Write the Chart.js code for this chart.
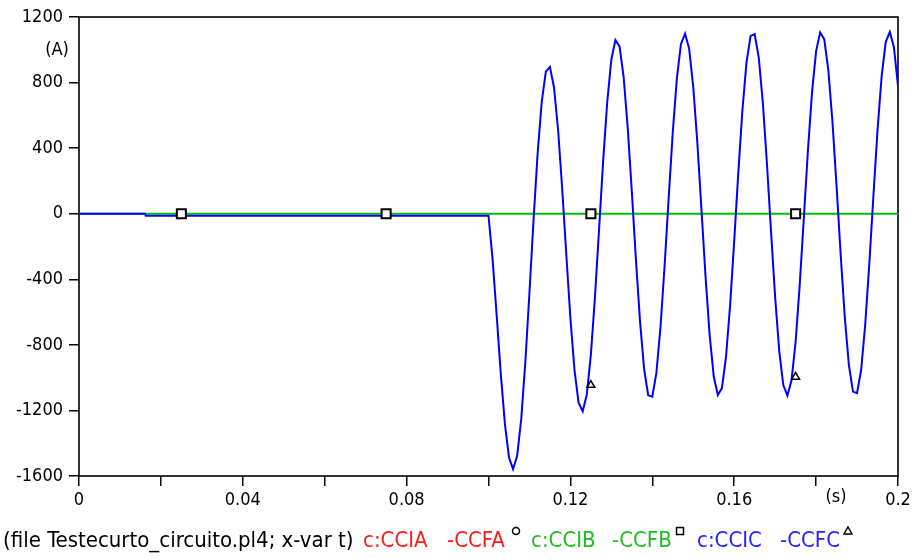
<!DOCTYPE html>
<html>
<head>
<meta charset="utf-8">
<script src="https://cdn.jsdelivr.net/npm/chart.js@4.4.1/dist/chart.umd.min.js"></script>
<style>
  html, body { margin: 0; padding: 0; background: #fff; }
  #wrap { width: 914px; height: 559px; }
</style>
</head>
<body>
<div id="wrap"><canvas id="plot" width="914" height="559"></canvas></div>
<script>
// CCIC before the fault: (time s, current A)
const preFaultTime = [0, 0.0161, 0.0163];
const preFaultCCIC = [0, 0, -12];

// CCIC from the fault instant on, one sample per ms
const faultStart = 0.1;
const sampleStep = 0.001;
const faultCCIC = [
  -12, -278, -622, -977, -1281, -1487, -1558, -1477, -1250, -903,
  -481, -38, 368, 683, 867, 896, 770, 509, 151, -250,
  -637, -954, -1153, -1205, -1104, -860, -507, -95, 322, 683,
  941, 1059, 1021, 834, 524, 135, -279, -657, -947, -1108,
  -1116, -971, -692, -319, 97, 497, 826, 1036, 1099, 1007,
  772, 434, 28, -383, -739, -992, -1106, -1064, -873, -559,
  -167, 249, 630, 922, 1085, 1095, 952, 675, 303, -111,
  -510, -838, -1047, -1109, -1016, -780, -434, -28, 383, 739,
  992, 1106, 1064, 873, 559, 167, -249, -630, -922, -1085,
  -1095, -952, -675, -303, 111, 510, 838, 1047, 1109, 1016,
  780
];

// CCIB stays at zero for the whole run (CCIA lies under it)
const flatTime = [0, 0.2];
const ccibValues = [0, 0];

// plot markers
const squareTime = [0.025, 0.075, 0.125, 0.175];
const squareValue = [0, 0, 0, 0];
const triangleTime = [0.125, 0.175];
const triangleValue = [-1045, -996];

// axes
const yTicks = [-1600, -1200, -800, -400, 0, 400, 800, 1200];
const xTickValues = [0, 0.02, 0.04, 0.06, 0.08, 0.1, 0.12, 0.14, 0.16, 0.18, 0.2];
const xTickLabels = ['0', '', '0.04', '', '0.08', '', '0.12', '', '0.16', '', '0.2'];
const yUnit = '(A)';
const xUnit = '(s)';

const legendItems = [
  { text: '(file Testecurto_circuito.pl4; x-var t)', color: '#000000', x: 3 },
  { text: 'c:CCIA', color: '#ff1a1a', x: 363 },
  { text: '-CCFA', color: '#ff1a1a', x: 447, mark: 'circle', markX: 516 },
  { text: 'c:CCIB', color: '#22bb22', x: 531 },
  { text: '-CCFB', color: '#22bb22', x: 612, mark: 'rect', markX: 680 },
  { text: 'c:CCIC', color: '#2424ff', x: 697 },
  { text: '-CCFC', color: '#2424ff', x: 780, mark: 'triangle', markX: 848 }
];

const FONT = "'DejaVu Sans Condensed', 'DejaVu Sans', sans-serif";

const pts = (xs, ys) => xs.map((x, i) => ({ x: x, y: ys[i] }));
const blueData = pts(preFaultTime, preFaultCCIC).concat(
  faultCCIC.map((v, i) => ({ x: +(faultStart + i * sampleStep).toFixed(4), y: v }))
);

function drawMark(ctx, kind, x, y) {
  ctx.save();
  ctx.strokeStyle = '#000';
  ctx.fillStyle = '#fff';
  ctx.lineWidth = 1.5;
  ctx.beginPath();
  if (kind === 'circle') {
    ctx.arc(x, y, 3.5, 0, Math.PI * 2);
  } else if (kind === 'rect') {
    ctx.rect(x - 3.5, y - 3.5, 7, 7);
  } else {
    ctx.moveTo(x, y - 4);
    ctx.lineTo(x + 4, y + 3);
    ctx.lineTo(x - 4, y + 3);
    ctx.closePath();
  }
  ctx.fill();
  ctx.stroke();
  ctx.restore();
}

const frameAndNotes = {
  id: 'frameAndNotes',
  beforeDatasetsDraw(chart) {
    const { ctx, chartArea: a } = chart;
    ctx.save();
    ctx.strokeStyle = '#000';
    ctx.lineWidth = 1.6;
    ctx.strokeRect(a.left, a.top, a.right - a.left, a.bottom - a.top);
    ctx.restore();
  },
  afterDraw(chart) {
    const ctx = chart.ctx;
    ctx.save();
    ctx.fillStyle = '#000';
    ctx.textBaseline = 'middle';
    ctx.textAlign = 'center';
    ctx.font = '18px ' + FONT;
    ctx.fillText(yUnit, 57, 50);
    ctx.fillText(xUnit, 836, 497);

    ctx.textAlign = 'left';
    ctx.font = '22px ' + FONT;
    legendItems.forEach(item => {
      ctx.fillStyle = item.color;
      ctx.fillText(item.text, item.x, 541);
      if (item.mark) drawMark(ctx, item.mark, item.markX, 531);
    });
    ctx.restore();
  }
};

new Chart(document.getElementById('plot'), {
  type: 'line',
  data: {
    datasets: [
      {
        label: 'CCFB',
        data: pts(squareTime, squareValue),
        showLine: false,
        pointStyle: 'rect',
        pointRadius: 6.4,
        pointBorderWidth: 2,
        pointBorderColor: '#000',
        pointBackgroundColor: '#fff',
        order: 0
      },
      {
        label: 'CCFC',
        data: pts(triangleTime, triangleValue),
        showLine: false,
        pointStyle: 'triangle',
        pointRadius: 4.5,
        pointBorderWidth: 1.5,
        pointBorderColor: '#000',
        pointBackgroundColor: '#fff',
        order: 1
      },
      {
        label: 'c:CCIC',
        data: blueData,
        borderColor: '#0000ff',
        borderWidth: 2,
        pointRadius: 0,
        tension: 0,
        order: 2
      },
      {
        label: 'c:CCIB',
        data: pts(flatTime, ccibValues),
        borderColor: '#00c000',
        borderWidth: 2,
        pointRadius: 0,
        order: 3
      }
    ]
  },
  options: {
    responsive: false,
    animation: false,
    devicePixelRatio: 1,
    layout: { padding: { left: 0, right: 16, top: 17, bottom: 0 } },
    plugins: {
      legend: { display: false },
      tooltip: { enabled: false }
    },
    scales: {
      x: {
        type: 'linear',
        min: 0,
        max: 0.2,
        afterBuildTicks: s => { s.ticks = xTickValues.map(v => ({ value: v })); },
        afterFit: s => { s.height = 83; s.paddingLeft = 0; s.paddingRight = 0; },
        ticks: {
          autoSkip: false,
          maxRotation: 0,
          padding: 4,
          color: '#000',
          font: { family: FONT, size: 18 },
          callback: (v, i) => xTickLabels[i]
        },
        grid: { drawOnChartArea: false, drawTicks: true, tickLength: 10, color: '#000', lineWidth: 1.5 },
        border: { display: false }
      },
      y: {
        min: -1600,
        max: 1200,
        afterBuildTicks: s => { s.ticks = yTicks.map(v => ({ value: v })); },
        afterFit: s => { s.width = 79; s.paddingTop = 0; s.paddingBottom = 0; },
        ticks: {
          autoSkip: false,
          padding: 6,
          color: '#000',
          font: { family: FONT, size: 18 },
          callback: v => String(v)
        },
        grid: { drawOnChartArea: false, drawTicks: true, tickLength: 10, color: '#000', lineWidth: 1.5 },
        border: { display: false }
      }
    }
  },
  plugins: [frameAndNotes]
});
</script>
</body>
</html>
